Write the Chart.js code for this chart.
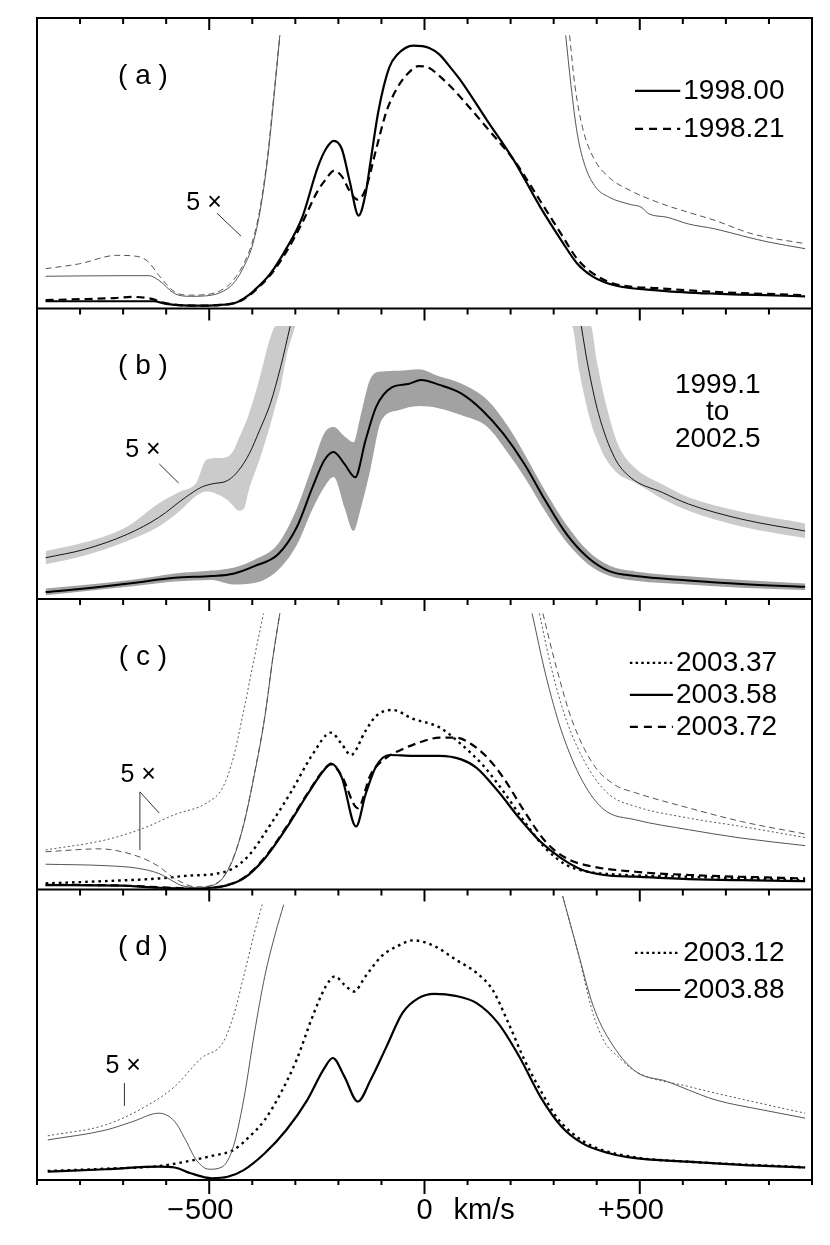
<!DOCTYPE html>
<html>
<head>
<meta charset="utf-8">
<script src="https://cdn.jsdelivr.net/npm/chart.js@4.4.0/dist/chart.umd.min.js"></script>
<style>
  html, body { margin: 0; padding: 0; background: #fff; }
  canvas { display: block; }
</style>
</head>
<body>
<canvas id="profiles" width="830" height="1245"></canvas>
<script>
// velocity (km/s) and relative flux (% of panel height)

// (a) 1998.00 / 1998.21
const aSolidV = [-880,-760,-630,-600,-560,-500,-470,-444,-420,-395,-358,-321,-284,-248,-229,-211,-192,-174,-153,-137,-125,-107,-82,-63,-26,11,35,60,85,146,208,269,318,355,392,441,552,675,884];
const aSolidY = [2.5,2.5,2.5,1.6,1.1,1.0,1.3,1.7,3.4,6.3,12,20.6,31.4,48.6,54.9,57.7,54.9,44,32,39.4,50.9,68,82.9,87.4,90.5,89.7,87.4,83,78.3,64.6,50.9,34.9,23.4,15.4,10.9,8,6.1,5.1,4.2];
const aDashV = [-880,-800,-720,-680,-640,-600,-560,-500,-470,-444,-420,-395,-358,-321,-284,-248,-229,-211,-192,-174,-155,-137,-112,-88,-63,-38,-14,11,35,60,85,146,208,269,318,355,392,441,552,675,884];
const aDashY = [2.9,3.2,3.6,4.0,3.5,1.8,1.1,1.0,1.3,1.8,3.2,6.0,11.5,19.5,29.5,40.5,44.5,47.4,45.5,40.5,37.5,41,55,68,76,81,83.4,82.8,80,76.5,72.5,62,51,37,25.5,17,12,8.5,6.9,5.7,4.6];
const aThinSolidLV = [-880,-703,-640,-617,-580,-543,-494,-457,-438,-420,-401,-383,-364,-349,-336];
const aThinSolidLY = [11.1,11.3,11.3,9.7,5.1,4.2,4.6,6.9,9.7,14.3,21.1,32.6,52,73.7,94];
const aThinSolidRV = [328,340,355,374,398,429,478,503,521,564,613,675,749,798,884];
const aThinSolidRY = [94,77.1,60,48.6,41.7,38.3,35.8,34.9,32.6,31.4,29.1,27.4,24.6,22.9,20.6];
const aThinDashLV = [-880,-801,-715,-666,-641,-617,-580,-543,-494,-457,-438,-420,-401,-383,-364,-349,-336];
const aThinDashLY = [13.7,15.4,18.3,17.9,16,11.4,5.7,4.6,5.1,7.8,10.9,15.4,22.3,33.7,53.1,74.9,94];
const aThinDashRV = [337,349,367,392,429,478,552,613,675,761,884];
const aThinDashRY = [94,77.1,62.3,52,45.1,40.6,36,33.1,30.3,25.7,22.3];

// (b) mean 1999.1 to 2002.5 with range
const bMainV = [-880,-789,-678,-580,-494,-444,-395,-340,-297,-260,-233,-211,-186,-161,-137,-112,-75,-38,-8,35,85,134,183,232,281,330,380,429,490,613,736,884];
const bMainY = [2.4,3.6,5.5,7.3,7.9,8.7,11.3,15.4,24.6,38.5,47.7,50.6,46.5,41.9,54.6,66.2,72.9,74,75.4,73.7,70.8,65,56.9,46.5,33.8,22.3,14.2,9.6,7.9,6.4,5.2,4.2];
const bDarkV = [-880,-678,-580,-494,-444,-395,-340,-297,-260,-233,-211,-186,-165,-150,-125,-100,-60,-14,35,85,146,195,232,281,330,380,429,490,613,736,884];
const bDarkHi = [3.6,6.6,8.8,9.8,10.8,13.5,19,31,46,57,59.2,56,54,62,76,78.3,78.6,79.1,76.6,74.2,68.5,59.2,50,37,25.5,16.5,11.5,9.5,7.8,6.5,5.3];
const bDarkLo = [1.3,4.4,6.0,6.5,5.0,5.5,10,18.5,31,38.5,42,31.5,23.4,30,45,61.5,65,66.4,65.6,63.3,59.2,50,42,30,19.5,12,8,6.3,5.0,3.9,3.1];
const bThinLV = [-880,-789,-690,-617,-555,-518,-494,-457,-432,-407,-383,-358,-334,-312];
const bThinLY = [14.2,17.1,22.3,28.1,35,38.5,39.6,40.8,44.2,50,58.1,67.3,80,93.9];
const bThinRV = [364,380,404,441,478,552,613,736,884];
const bThinRY = [94,80,63.9,48.8,41.9,36.7,32.7,27.5,23.4];
const bLightLV = [-880,-789,-690,-617,-567,-530,-506,-480,-457,-444,-432,-420,-407,-383,-358,-345,-334,-320,-300];
const bLightLHi = [16.5,19.5,25,33,37,40,48,48.5,49,51,55,59,64,76,90,94,94,94,94];
const bLightLLo = [12,15,20,25,30.5,35.5,37,36,34,32,30.4,31,38,48,60,67,73,84,94];
const bLightRV = [337,342,360,386,400,420,450,490,552,613,736,884];
const bLightRHi = [94,94,94,94,82,68,53,45,39.5,35,30,26];
const bLightRLo = [94,94,78,61,55,48.5,43,40,34.5,30.4,25,21];

// (c) 2003.37 / 2003.58 / 2003.72
const cSolidV = [-880,-703,-617,-543,-494,-457,-420,-371,-321,-272,-235,-217,-192,-159,-137,-112,-81,-26,35,85,121,171,220,269,318,367,417,490,613,736,884];
const cSolidY = [1.5,1.3,0.6,0.35,0.6,1.5,3.8,10.7,21.1,32.7,40.8,43.3,38.5,21.7,32.7,42.5,46.3,46,46,44.8,41.9,33.8,24.6,16.5,10.7,6.7,5,4.4,3.6,3.2,2.9];
const cDotV = [-880,-740,-617,-555,-481,-444,-407,-358,-309,-260,-217,-192,-171,-137,-112,-75,-26,35,85,134,183,232,281,330,380,441,613,884];
const cDotY = [2.1,2.9,3.8,4.7,5.5,7.3,11.9,22.3,33.8,46.5,54,50,46.3,54.6,59.8,61.8,58.7,55.8,50,43.1,33.8,23.4,14.2,8.4,6.1,5.2,4.4,3.2];
const cDashV = [-880,-703,-617,-543,-494,-457,-420,-371,-321,-272,-235,-217,-192,-155,-125,-88,-51,0,35,72,109,146,183,232,281,330,380,490,613,884];
const cDashY = [1.6,1.4,0.8,0.4,0.6,1.6,4.0,11,21.5,33,41,43.1,39,28,39.6,45.4,48.3,51.2,52.3,52.3,50,45.4,38.5,26.9,16.5,10.7,8.2,6.1,5,3.8];
const cThinSolidLV = [-880,-740,-666,-617,-580,-567,-530,-494,-469,-444,-420,-395,-371,-352,-336];
const cThinSolidLY = [8.7,8.2,7.3,5.5,2.5,1.5,0.7,1.3,3.8,10.7,22.3,39.6,59.2,80,95];
const cThinSolidRV = [250,281,318,367,417,490,613,736,884];
const cThinSolidRY = [95,74.2,54.6,37.3,27.5,24,20.6,17.7,15.1];
const cThinDotLV = [-880,-740,-653,-580,-506,-469,-444,-420,-395,-374];
const cThinDotLY = [13.6,17.1,21.1,25.8,29.8,35,45.4,61.5,80,95];
const cThinDotRV = [267,294,330,380,429,490,613,736,884];
const cThinDotRY = [95,76.6,58.1,41.9,32.7,28.6,24.6,21.7,17.9];
const cThinDashLV = [-880,-752,-703,-653,-617,-580,-530,-494,-469,-444,-420,-395,-371,-352,-336];
const cThinDashLY = [13,14,13,10.7,7.9,3.8,0.9,1.5,4,11,22.5,40,59.5,80,95];
const cThinDashRV = [275,306,343,392,441,490,613,736,884];
const cThinDashRY = [95,76.6,58.1,43.1,36.1,33.3,28.1,23.4,19.1];

// (d) 2003.12 / 2003.88
const dSolidV = [-875,-740,-617,-580,-543,-494,-457,-420,-371,-321,-272,-235,-213,-186,-155,-125,-88,-51,-14,23,72,121,171,220,269,318,367,429,490,613,736,884];
const dSolidY = [2.9,3.7,4.6,4.3,2.3,0.6,1.1,3.4,9.2,17.2,27.6,37.9,42,35.6,27,34.5,46,57.5,62.6,64.1,63.4,60.9,54,42.5,28.7,18.4,12.6,9.2,7.5,6.3,5.2,4.3];
const dDotV = [-875,-740,-617,-555,-494,-444,-407,-371,-334,-297,-260,-229,-208,-186,-164,-137,-100,-63,-26,23,72,121,158,195,232,269,306,343,392,490,613,884];
const dDotY = [3.1,3.9,4.8,6.3,8.3,10.3,14.9,20.7,29.9,41.4,56.3,66.7,70.1,67.2,64.9,70.1,77,80.5,82.5,80.5,75.9,71.3,65.5,54,41.4,31,21.8,16.1,11.5,7.8,6.3,4.4];
const dThinSolidLV = [-875,-740,-678,-617,-580,-555,-530,-500,-469,-444,-420,-395,-371,-346,-327];
const dThinSolidLY = [13.8,17.2,20.1,23,20.1,13.8,6.9,3.7,4.6,11.5,27.6,50.6,70.1,85.1,94.8];
const dThinSolidRV = [321,355,392,429,490,564,613,675,786,884];
const dThinSolidRY = [97.7,79.3,59.8,48.3,37.4,33.9,31,27.6,24.1,21.3];
const dThinDotLV = [-875,-740,-641,-580,-518,-469,-444,-420,-395,-377];
const dThinDotLY = [15.2,19,25.9,32.2,42,47.1,56.3,70.1,85.1,94.8];
const dThinDotRV = [321,355,392,420,441,490,613,786,884];
const dThinDotRY = [97.7,79,57,47,43.7,37.4,32.2,26.2,23];

// axis ticks and labels
const minorTicks = [-900,-800,-700,-600,-500,-400,-300,-200,-100,0,100,200,300,400,500,600,700,800,900];
const majorTicks = [-500, 0, 500];
const tickDigits = ['500', '0', '500'];
const tickSigns = ['\u2212', '', '+'];

const panelAxes = ['ya', 'yb', 'yc', 'yd'];
const panelNames = ['( a )', '( b )', '( c )', '( d )'];
const legends = {
    ya: [['solid', '1998.00'], ['dash', '1998.21']],
    yc: [['dot', '2003.37'], ['solid', '2003.58'], ['dash', '2003.72']],
    yd: [['dot', '2003.12'], ['solid', '2003.88']]
};
const bRange = ['1999.1', 'to', '2002.5'];

const BLACK = '#000';
const THIN = '#555';
const DASH = [8, 5];
const DOT = [2.6, 4];
const THIN_DASH = [6, 4];
const THIN_DOT = [2, 2.5];

const pts = (vs, ys) => vs.map((v, i) => ({ x: v, y: ys[i] }));

function line(axis, vs, ys, color, width, dash) {
    return {
        yAxisID: axis,
        data: pts(vs, ys),
        borderColor: color,
        borderWidth: width,
        borderDash: dash || [],
        pointRadius: 0,
        fill: false,
        order: 1
    };
}

// two datasets: top edge, then bottom edge filled back to it
function band(axis, vs, hi, lo, color) {
    return [
        { yAxisID: axis, data: pts(vs, hi), borderWidth: 0, borderColor: 'transparent', pointRadius: 0, fill: false, order: 5 },
        { yAxisID: axis, data: pts(vs, lo), borderWidth: 0, borderColor: 'transparent', pointRadius: 0, fill: '-1', backgroundColor: color, order: 5 }
    ];
}

const datasets = [
    ...band('yb', bLightLV, bLightLHi, bLightLLo, '#cbcbcb'),
    ...band('yb', bLightRV, bLightRHi, bLightRLo, '#cbcbcb'),
    ...band('yb', bDarkV, bDarkHi, bDarkLo, '#a2a2a2'),

    line('ya', aThinSolidLV, aThinSolidLY, THIN, 1),
    line('ya', aThinSolidRV, aThinSolidRY, THIN, 1),
    line('ya', aThinDashLV, aThinDashLY, THIN, 1, THIN_DASH),
    line('ya', aThinDashRV, aThinDashRY, THIN, 1, THIN_DASH),
    line('ya', aDashV, aDashY, BLACK, 2.2, DASH),
    line('ya', aSolidV, aSolidY, BLACK, 2.2),

    line('yb', bThinLV, bThinLY, BLACK, 0.9),
    line('yb', bThinRV, bThinRY, BLACK, 0.9),
    line('yb', bMainV, bMainY, BLACK, 2),

    line('yc', cThinSolidLV, cThinSolidLY, THIN, 1),
    line('yc', cThinSolidRV, cThinSolidRY, THIN, 1),
    line('yc', cThinDotLV, cThinDotLY, THIN, 1, THIN_DOT),
    line('yc', cThinDotRV, cThinDotRY, THIN, 1, THIN_DOT),
    line('yc', cThinDashLV, cThinDashLY, THIN, 1, THIN_DASH),
    line('yc', cThinDashRV, cThinDashRY, THIN, 1, THIN_DASH),
    line('yc', cDotV, cDotY, BLACK, 2.4, DOT),
    line('yc', cDashV, cDashY, BLACK, 2.2, DASH),
    line('yc', cSolidV, cSolidY, BLACK, 2.2),

    line('yd', dThinSolidLV, dThinSolidLY, THIN, 1),
    line('yd', dThinSolidRV, dThinSolidRY, THIN, 1),
    line('yd', dThinDotLV, dThinDotLY, THIN, 1, THIN_DOT),
    line('yd', dThinDotRV, dThinDotRY, THIN, 1, THIN_DOT),
    line('yd', dDotV, dDotY, BLACK, 2.4, DOT),
    line('yd', dSolidV, dSolidY, BLACK, 2.2)
];

// "5x" notes: label position and leader segments, in (v, flux) of each panel
const fiveX = [
    { axis: 'ya', at: [-512, 36.3], lines: [[[-482, 32.8], [-426, 24.9]]] },
    { axis: 'yb', at: [-654, 51.3], lines: [[[-616, 46.5], [-571, 39.9]]] },
    { axis: 'yc', at: [-665, 39.4], lines: [[[-661, 33.6], [-661, 13.6]], [[-661, 33.6], [-616, 26.3]]] },
    { axis: 'yd', at: [-700, 39.2], lines: [[[-697, 33.4], [-697, 25.5]]] }
];

const FONT = '"Liberation Sans", Arial, sans-serif';

const decor = {
    id: 'decor',
    beforeDraw(chart) {
        const ctx = chart.ctx;
        ctx.save();
        ctx.fillStyle = '#fff';
        ctx.fillRect(0, 0, chart.width, chart.height);
        ctx.restore();
    },
    afterDraw(chart) {
        const ctx = chart.ctx;
        const xs = chart.scales.x;
        const area = chart.chartArea;
        ctx.save();
        ctx.strokeStyle = '#000';
        ctx.fillStyle = '#000';
        ctx.lineCap = 'butt';

        // frame and panel dividers
        ctx.lineWidth = 2;
        ctx.strokeRect(area.left, area.top, area.right - area.left, area.bottom - area.top);
        panelAxes.forEach(id => {
            const ys = chart.scales[id];
            const top = ys.getPixelForValue(100);
            ctx.beginPath();
            ctx.moveTo(area.left, top);
            ctx.lineTo(area.right, top);
            ctx.stroke();

            // inward ticks at each panel top
            ctx.lineWidth = 2;
            minorTicks.forEach(v => {
                if (Math.abs(v) === 900) return;
                const x = xs.getPixelForValue(v);
                const len = majorTicks.includes(v) ? 12 : 6;
                ctx.beginPath();
                ctx.moveTo(x, top);
                ctx.lineTo(x, top + len);
                ctx.stroke();
            });

            // panel letter
            const lx = xs.getPixelForValue(-654);
            const ly = ys.getPixelForValue(80);
            ctx.font = '28px ' + FONT;
            ctx.textAlign = 'center';
            ctx.textBaseline = 'middle';
            ctx.fillText(panelNames[panelAxes.indexOf(id)], lx, ly);
        });

        // outward ticks and labels along the bottom
        minorTicks.forEach(v => {
            const x = xs.getPixelForValue(v);
            const len = majorTicks.includes(v) ? 14 : 5;
            ctx.beginPath();
            ctx.moveTo(x, area.bottom);
            ctx.lineTo(x, area.bottom + len);
            ctx.stroke();
        });
        ctx.font = '29px ' + FONT;
        ctx.textBaseline = 'middle';
        const ly = area.bottom + 31;
        majorTicks.forEach((v, i) => {
            const x = xs.getPixelForValue(v);
            ctx.textAlign = 'center';
            ctx.fillText(tickDigits[i], x, ly);
            if (tickSigns[i]) {
                ctx.textAlign = 'right';
                ctx.fillText(tickSigns[i], x - 25, ly);
            }
        });
        ctx.textAlign = 'left';
        ctx.fillText('km/s', xs.getPixelForValue(0) + 29, ly);

        // legends
        const styleOf = { solid: [[], 2.2], dash: [[8, 6], 2.2], dot: [[2.5, 3.2], 2.4] };
        const legendRows = { ya: [74.9, 61.8], yc: [78, 67, 56], yd: [78.2, 65.4] };
        Object.keys(legends).forEach(id => {
            const ys = chart.scales[id];
            legends[id].forEach((row, i) => {
                const y = ys.getPixelForValue(legendRows[id][i]);
                const x0 = xs.getPixelForValue(id === 'yc' ? 477 : 489);
                const x1 = xs.getPixelForValue(id === 'yc' ? 577 : 594);
                ctx.setLineDash(styleOf[row[0]][0]);
                ctx.lineWidth = styleOf[row[0]][1];
                ctx.beginPath();
                ctx.moveTo(x0, y);
                ctx.lineTo(x1, y);
                ctx.stroke();
                ctx.setLineDash([]);
                ctx.font = '28px ' + FONT;
                ctx.textAlign = 'left';
                ctx.textBaseline = 'middle';
                ctx.fillText(row[1], x1 + 3, y);
            });
        });

        // (b) date range
        const yb = chart.scales.yb;
        ctx.font = '28px ' + FONT;
        ctx.textAlign = 'center';
        ctx.textBaseline = 'alphabetic';
        [70.9, 61.6, 52.3].forEach((h, i) => {
            ctx.fillText(bRange[i], xs.getPixelForValue(681), yb.getPixelForValue(h));
        });

        // 5x notes
        ctx.lineWidth = 1;
        ctx.strokeStyle = '#333';
        fiveX.forEach(n => {
            const ys = chart.scales[n.axis];
            ctx.font = '25px ' + FONT;
            ctx.textAlign = 'center';
            ctx.textBaseline = 'middle';
            ctx.fillText('5 \u00d7', xs.getPixelForValue(n.at[0]), ys.getPixelForValue(n.at[1]));
            n.lines.forEach(seg => {
                ctx.beginPath();
                ctx.moveTo(xs.getPixelForValue(seg[0][0]), ys.getPixelForValue(seg[0][1]));
                ctx.lineTo(xs.getPixelForValue(seg[1][0]), ys.getPixelForValue(seg[1][1]));
                ctx.stroke();
            });
        });
        ctx.restore();
    }
};

new Chart(document.getElementById('profiles'), {
    type: 'line',
    data: { datasets },
    options: {
        responsive: false,
        animation: false,
        devicePixelRatio: 1,
        layout: { padding: { top: 18, left: 37, right: 18, bottom: 65 } },
        elements: { line: { cubicInterpolationMode: 'monotone' } },
        plugins: { legend: { display: false }, tooltip: { enabled: false } },
        scales: {
            x: { type: 'linear', min: -900, max: 900, display: false },
            // four panels share one x axis; each y axis owns a quarter of the height
            ya: { type: 'linear', min: -300, max: 100, display: false },
            yb: { type: 'linear', min: -200, max: 200, display: false },
            yc: { type: 'linear', min: -100, max: 300, display: false },
            yd: { type: 'linear', min: 0, max: 400, display: false }
        }
    },
    plugins: [decor]
});
</script>
</body>
</html>
